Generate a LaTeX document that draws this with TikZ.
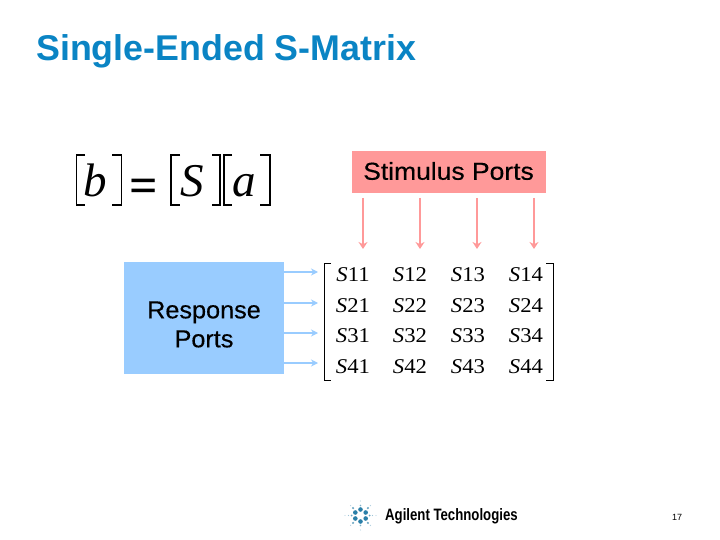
\documentclass[tikz,border=0pt]{standalone}
\usepackage{fontspec}
\setmainfont{Liberation Sans}
\newfontfamily\eqfont{Liberation Serif}
\newfontfamily\portfont[FakeBold=0.3]{Liberation Sans}
\usetikzlibrary{positioning,arrows.meta}
\definecolor{titleblue}{HTML}{0A84C4}
\definecolor{stimpink}{HTML}{FF9999}
\definecolor{respblue}{HTML}{99CCFF}
\definecolor{logoblue}{HTML}{2A7FA8}
\tikzset{
	stimarrow/.style={draw=stimpink, line width=1.7pt, -{Stealth[length=7pt,width=9pt]}},
	resparrow/.style={draw=respblue, line width=1.2pt, -{Stealth[length=7pt,width=7pt]}},
	entry/.style={font=\fontsize{21}{21}\eqfont, inner sep=0pt, xscale=1.08},
	eqletter/.style={font=\fontsize{47}{47}\eqfont\itshape, inner sep=0pt},
	eqbracket/.style={line width=1.5pt},
	portlabel/.style={font=\fontsize{24.5}{29}\portfont, align=center, text=black, inner sep=0pt},
}
\begin{document}
\begin{tikzpicture}[x=1pt,y=-1pt]
	\useasboundingbox (0,0) rectangle (720,540);
	\node[anchor=west, inner sep=0pt, text=titleblue, font=\fontsize{35.8}{36}\selectfont\bfseries] (title) at (36,51) {Single-Ended S-Matrix};

	% equation
	\node[eqletter] (b) at (95,180) {b};
	\node[font=\fontsize{50}{50}\eqfont\bfseries, inner sep=0pt] (equals) at (144,191) {=};
	\node[eqletter] (S) at (192,181) {S};
	\node[eqletter] (a) at (244,186) {a};
	\draw[eqbracket] (85,155) -- (76.5,155) -- (76.5,205) -- (85,205);
	\draw[eqbracket] (112,155) -- (121.5,155) -- (121.5,205) -- (112,205);
	\draw[eqbracket] (180,155) -- (171,155) -- (171,205) -- (180,205);
	\draw[eqbracket] (212,155) -- (220,155) -- (220,205) -- (212,205);
	\draw[eqbracket] (232,155) -- (224,155) -- (224,205) -- (232,205);
	\draw[eqbracket] (260,155) -- (270,155) -- (270,205) -- (260,205);

	% ports
	\node[fill=stimpink, minimum width=194pt, minimum height=42pt, anchor=north west] (stimulus) at (352,151) {};
	\node[portlabel, xscale=1.08] (stimuluslabel) at (448.5,171) {Stimulus Ports};
	\node[fill=respblue, minimum width=160pt, minimum height=112pt, anchor=north west] (response) at (124,262) {};
	\node[portlabel, xscale=1.03] (responselabel) at (204,324.5) {Response\\Ports};

	% matrix
	\foreach \r/\ypos in {1/275,2/306,3/336,4/367}
		\foreach \c/\xpos in {1/353,2/410,3/468,4/526}
			\node[entry] (s\r\c) at (\xpos,\ypos) {\textit{S}\r\c};
	\draw[line width=.8pt] (331,263) -- (324,263) -- (324,380) -- (331,380);
	\draw[line width=.8pt] (546,263) -- (553,263) -- (553,380) -- (546,380);

	\foreach \c/\xpos in {1/363,2/420,3/477,4/534} {
		\coordinate (stimfrom\c) at (\xpos,198);
		\coordinate (stimto\c) at (\xpos,249);
		\draw[stimarrow] (stimfrom\c) -- (stimto\c);
	}
	\foreach \r/\ypos in {1/272,2/303,3/333,4/363} {
		\coordinate (respfrom\r) at (284,\ypos);
		\coordinate (respto\r) at (318,\ypos);
		\draw[resparrow] (respfrom\r) -- (respto\r);
	}

	% footer
	\coordinate (logo) at (360.5,515.5);
	\foreach \ang in {30,90,...,330} {
		\fill[logoblue] (logo) ++(\ang:6) circle (2.3pt);
	}
	\foreach \ang in {45,135,225,315} {
		\fill[logoblue!70] (logo) ++(\ang:10.5) circle (1.2pt);
		\fill[logoblue!35] (logo) ++(\ang:14) circle (.7pt);
	}
	\foreach \ang in {0,180} {
		\fill[logoblue!70] (logo) ++(\ang:9) circle (1pt);
		\fill[logoblue!45] (logo) ++(\ang:12) circle (.7pt);
		\fill[logoblue!30] (logo) ++(\ang:15.5) circle (.6pt);
	}
	\foreach \ang in {90,270} {
		\fill[logoblue!60] (logo) ++(\ang:10) circle (.9pt);
		\fill[logoblue!30] (logo) ++(\ang:14.5) circle (.6pt);
	}
	\node[anchor=west, inner sep=0pt, font=\fontsize{16.5}{16.5}\selectfont\bfseries, xscale=.8] (agilent) at (385,516) {Agilent Technologies};
	\node[inner sep=0pt, font=\fontsize{9}{9}\selectfont] (pagenum) at (677,517) {17};
\end{tikzpicture}
\end{document}
